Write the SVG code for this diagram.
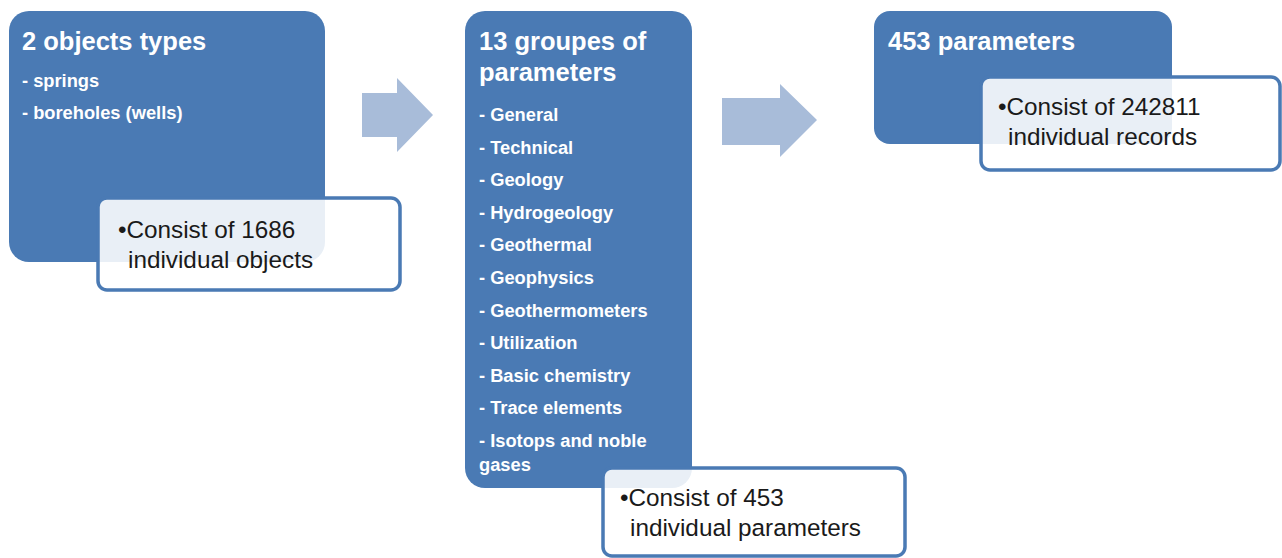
<svg xmlns="http://www.w3.org/2000/svg" width="1282" height="558" viewBox="0 0 1282 558">
<defs>
<style>
.box{fill:#4a7ab4;}
.sub{fill:#ffffff;fill-opacity:0.88;stroke:#4a7ab4;stroke-width:3.5;}
.arrow{fill:#a8bcd9;}
.title{font-family:"Liberation Sans",Arial,sans-serif;font-weight:bold;font-size:25.5px;fill:#ffffff;}
.item{font-family:"Liberation Sans",Arial,sans-serif;font-weight:bold;font-size:18.3px;fill:#ffffff;}
.note{font-family:"Liberation Sans",Arial,sans-serif;font-size:24.3px;fill:#1a1a1a;}
</style>
</defs>
<rect width="1282" height="558" fill="#ffffff"/>
<g id="connectors">
<polygon class="arrow" points="362,93 397,93 397,78 433,115 397,152 397,137 362,137"/>
<polygon class="arrow" points="722,98 780,98 780,84 817,120 780,157 780,145 722,145"/>
</g>
<g id="node-objects">
<rect class="box" x="9" y="11" width="316" height="251" rx="20"/>
<text class="title" x="22" y="50">2 objects types</text>
<text class="item" x="22" y="87">- springs</text>
<text class="item" x="22" y="119">- boreholes (wells)</text>
</g>
<g id="note-objects">
<rect class="sub" x="98" y="198" width="302" height="92" rx="9"/>
<text class="note" x="118" y="238">•Consist of 1686</text>
<text class="note" x="128" y="268">individual objects</text>
</g>
<g id="node-groups">
<rect class="box" x="465" y="11" width="227" height="477" rx="20"/>
<text class="title" x="479" y="50">13 groupes of</text>
<text class="title" x="479" y="81">parameters</text>
<text class="item" x="479" y="121">- General</text>
<text class="item" x="479" y="154">- Technical</text>
<text class="item" x="479" y="186">- Geology</text>
<text class="item" x="479" y="219">- Hydrogeology</text>
<text class="item" x="479" y="251">- Geothermal</text>
<text class="item" x="479" y="284">- Geophysics</text>
<text class="item" x="479" y="317">- Geothermometers</text>
<text class="item" x="479" y="349">- Utilization</text>
<text class="item" x="479" y="382">- Basic chemistry</text>
<text class="item" x="479" y="414">- Trace elements</text>
<text class="item" x="479" y="447">- Isotops and noble</text>
<text class="item" x="479" y="471">gases</text>
</g>
<g id="note-groups">
<rect class="sub" x="603" y="468" width="302" height="88" rx="9"/>
<text class="note" x="620" y="506">•Consist of 453</text>
<text class="note" x="630" y="536">individual parameters</text>
</g>
<g id="node-params">
<rect class="box" x="874" y="11" width="298" height="133" rx="16"/>
<text class="title" x="888" y="50">453 parameters</text>
</g>
<g id="note-params">
<rect class="sub" x="981" y="77" width="299" height="93" rx="9"/>
<text class="note" x="998" y="115">•Consist of 242811</text>
<text class="note" x="1008" y="145">individual records</text>
</g>
</svg>
